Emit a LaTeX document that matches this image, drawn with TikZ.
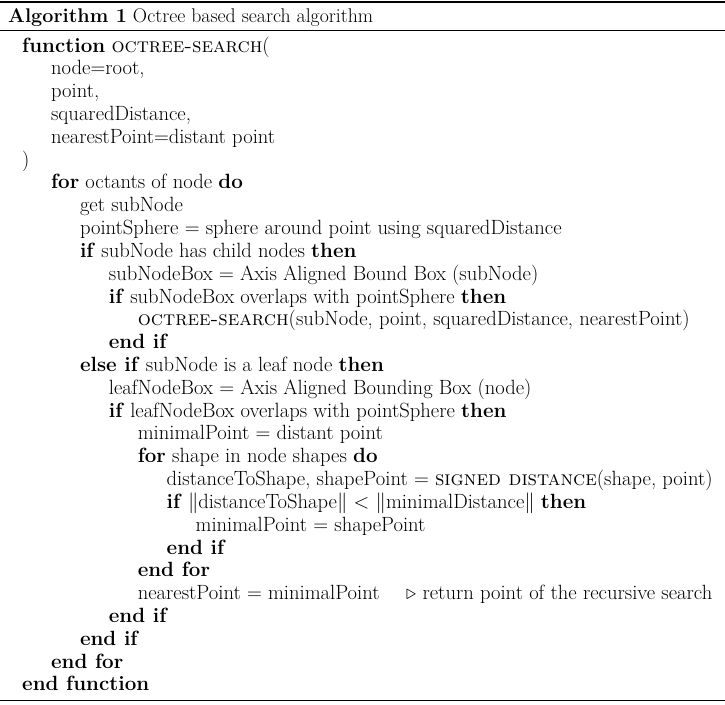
\documentclass[tikz,border=0pt]{standalone}
\usepackage{amsmath,amssymb}
\begin{document}
\begin{tikzpicture}[x=1pt,y=1pt,
  algtext/.style={anchor=base west,inner sep=0pt,font=\fontsize{20.6}{24}\selectfont}]
\useasboundingbox (0,0) rectangle (725,-704);
\fill[white] (0,0) rectangle (725,-704);
\newcommand\algline[3]{\node[algtext] (l#1) at ({22+28.9*#2},{-(52+22.82*(#1-1))}) {#3};}
\draw[line width=1.4pt] (0,-2) -- (725,-2);
\draw[line width=0.8pt] (0,-30.5) -- (725,-30.5);
\draw[line width=0.8pt] (0,-700) -- (725,-700);
\node[algtext,font=\fontsize{19.8}{24}\selectfont] (cap) at (8,-22) {\textbf{Algorithm 1} Octree based search algorithm};
\algline{1}{0}{\textbf{function} \textsc{octree-search}(}
\algline{2}{1}{node=root,}
\algline{3}{1}{point,}
\algline{4}{1}{squaredDistance,}
\algline{5}{1}{nearestPoint=distant point}
\algline{6}{0}{)}
\algline{7}{1}{\textbf{for} octants of node \textbf{do}}
\algline{8}{2}{get subNode}
\algline{9}{2}{pointSphere = sphere around point using squaredDistance}
\algline{10}{2}{\textbf{if} subNode has child nodes \textbf{then}}
\algline{11}{3}{subNodeBox = Axis Aligned Bound Box (subNode)}
\algline{12}{3}{\textbf{if} subNodeBox overlaps with pointSphere \textbf{then}}
\algline{13}{4}{\textsc{octree-search}(subNode, point, squaredDistance, nearestPoint)}
\algline{14}{3}{\textbf{end if}}
\algline{15}{2}{\textbf{else if} subNode is a leaf node \textbf{then}}
\algline{16}{3}{leafNodeBox = Axis Aligned Bounding Box (node)}
\algline{17}{3}{\textbf{if} leafNodeBox overlaps with pointSphere \textbf{then}}
\algline{18}{4}{minimalPoint = distant point}
\algline{19}{4}{\textbf{for} shape in node shapes \textbf{do}}
\algline{20}{5}{distanceToShape, shapePoint = \textsc{signed distance}(shape, point)}
\algline{21}{5}{\textbf{if} $\|$distanceToShape$\|$ $<$ $\|$minimalDistance$\|$ \textbf{then}}
\algline{22}{6}{minimalPoint = shapePoint}
\algline{23}{5}{\textbf{end if}}
\algline{24}{4}{\textbf{end for}}
\algline{25}{4}{nearestPoint = minimalPoint}
\node[algtext] (cmt) at (406,{-(52+22.82*24)}) {$\triangleright$ return point of the recursive search};
\algline{26}{3}{\textbf{end if}}
\algline{27}{2}{\textbf{end if}}
\algline{28}{1}{\textbf{end for}}
\algline{29}{0}{\textbf{end function}}
\end{tikzpicture}
\end{document}
